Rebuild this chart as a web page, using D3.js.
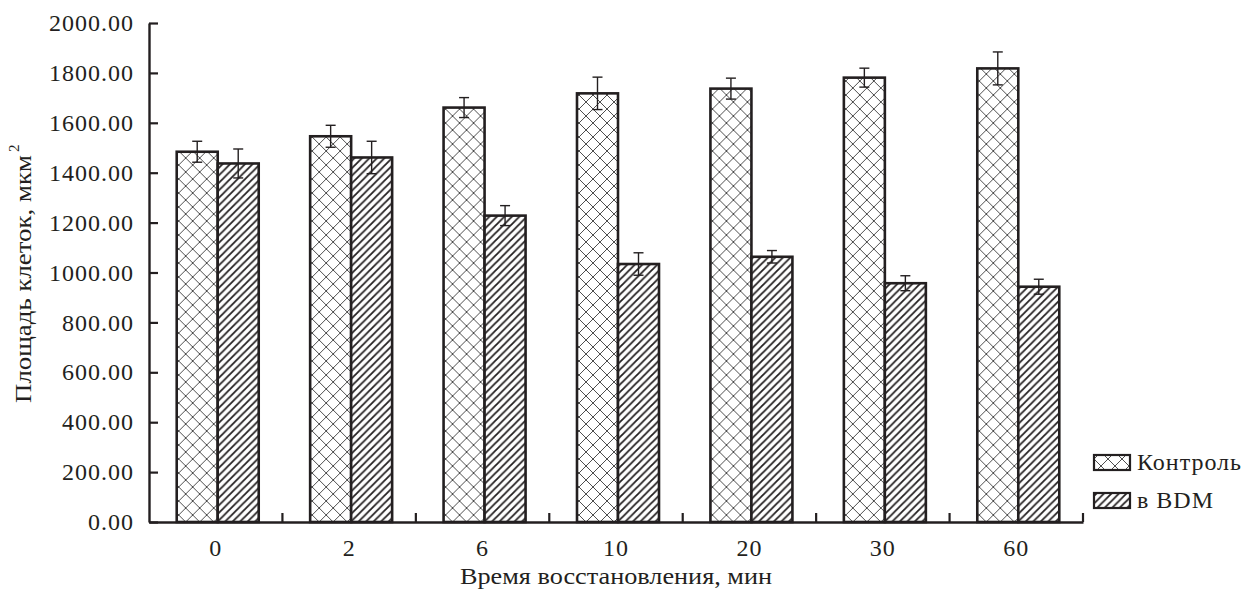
<!DOCTYPE html>
<html><head><meta charset="utf-8">
<script src="https://cdn.jsdelivr.net/npm/d3@7"></script>
<style>
body{margin:0;background:#fff}
svg{display:block}
text{font-family:"Liberation Serif","Times New Roman",serif;fill:#231f20}
</style>
</head><body>
<svg id="chart" width="1253" height="592"></svg>
<script>
const categories = ["0","2","6","10","20","30","60"];
const seriesNames = ["Контроль","в BDM"];
const controlValues = [1484,1546,1661,1718,1737,1781,1818];
const controlErrors = [42,44,40,65,42,38,66];
const bdmValues = [1437,1461,1228,1034,1063,957,943];
const bdmErrors = [58,65,40,45,25,30,30];
const yTicks = [0,200,400,600,800,1000,1200,1400,1600,1800,2000];
const xTitle = "Время восстановления, мин";
const yTitle = "Площадь клеток, мкм";

const INK = "#231f20";
const svg = d3.select("#chart");
const pLeft = 149, pRight = 1083, pTop = 23, pBottom = 522;

const defs = svg.append("defs");
const cross = defs.append("pattern").attr("id","cross").attr("patternUnits","userSpaceOnUse")
  .attr("width",14).attr("height",14).attr("x",pLeft).attr("y",pBottom);
cross.append("rect").attr("width",14).attr("height",14).attr("fill","#fff");
cross.append("path").attr("d","M0,0L14,14M14,0L0,14").attr("stroke","#3a3a3a").attr("stroke-width",0.9).attr("fill","none");
const hatch = defs.append("pattern").attr("id","hatch").attr("patternUnits","userSpaceOnUse")
  .attr("width",7.5).attr("height",7.5);
hatch.append("rect").attr("width",7.5).attr("height",7.5).attr("fill","#fff");
hatch.append("path").attr("d","M-1,8.5L8.5,-1M-1,1L1,-1M6.5,8.5L8.5,6.5").attr("stroke",INK).attr("stroke-width",1.8).attr("fill","none");
const fills = ["url(#cross)","url(#hatch)"];

const x0 = d3.scaleBand().domain(categories).range([pLeft,pRight]).padding(0);
const groupW = 82;
const x1 = d3.scaleBand().domain(seriesNames).range([0,groupW]).padding(0);
const y = d3.scaleLinear().domain([0,2000]).range([pBottom,pTop]);

const data = categories.map((c,i)=>({cat:c, vals:[
  {s:seriesNames[0], v:controlValues[i], e:controlErrors[i]},
  {s:seriesNames[1], v:bdmValues[i], e:bdmErrors[i]}]}));

const groups = svg.append("g").selectAll("g").data(data).join("g")
  .attr("transform", d=>`translate(${x0(d.cat)+x0.bandwidth()/2-groupW/2+2},0)`);
groups.selectAll("rect").data(d=>d.vals).join("rect")
  .attr("x", d=>x1(d.s)).attr("width", x1.bandwidth())
  .attr("y", d=>y(d.v)).attr("height", d=>y(0)-y(d.v))
  .attr("fill",(d,i)=>fills[i]).attr("stroke",INK).attr("stroke-width",2.6);
const eb = groups.selectAll("g.eb").data(d=>d.vals).join("g").attr("class","eb")
  .attr("transform", d=>`translate(${x1(d.s)+x1.bandwidth()/2},0)`)
  .attr("stroke",INK).attr("stroke-width",1.4);
eb.append("line").attr("y1",d=>y(d.v+d.e)).attr("y2",d=>y(d.v-d.e));
eb.append("line").attr("x1",-5).attr("x2",5).attr("y1",d=>y(d.v+d.e)).attr("y2",d=>y(d.v+d.e));
eb.append("line").attr("x1",-5).attr("x2",5).attr("y1",d=>y(d.v-d.e)).attr("y2",d=>y(d.v-d.e));

// Y axis
const yAxis = svg.append("g").attr("transform",`translate(${pLeft},0)`)
  .call(d3.axisLeft(y).tickValues(yTicks).tickFormat(d3.format(".2f")).tickSize(-9).tickSizeOuter(0).tickPadding(15));
yAxis.select(".domain").attr("stroke",INK).attr("stroke-width",2.4);
yAxis.selectAll(".tick line").attr("stroke",INK).attr("stroke-width",2.2);
yAxis.selectAll("text").attr("font-size",24).attr("fill",INK).style("letter-spacing","1px");

// X axis
const xAxis = svg.append("g").attr("transform",`translate(0,${pBottom})`)
  .call(d3.axisBottom(x0).tickSize(0).tickPadding(0));
xAxis.select(".domain").attr("stroke",INK).attr("stroke-width",2.4);
xAxis.selectAll("text").attr("font-size",24).attr("fill",INK).attr("dy",null).attr("y",34)
  .style("letter-spacing","1px");
xAxis.selectAll(".bound").data(categories).join("line").attr("class","bound")
  .attr("x1",d=>x0(d)+x0.bandwidth()).attr("x2",d=>x0(d)+x0.bandwidth())
  .attr("y1",0).attr("y2",-9).attr("stroke",INK).attr("stroke-width",2.2);

// titles
svg.append("text").attr("x",(pLeft+pRight)/2).attr("y",584).attr("font-size",23)
  .attr("text-anchor","middle")
  .attr("textLength",312).attr("lengthAdjust","spacingAndGlyphs").text(xTitle);
const yt = svg.append("g").attr("transform","translate(31,403) rotate(-90)");
yt.append("text").attr("x",0).attr("y",0).attr("font-size",23)
  .attr("textLength",248).attr("lengthAdjust","spacingAndGlyphs").text(yTitle);
yt.append("text").attr("x",251).attr("y",-12).attr("font-size",15).text("2");

// legend
const lg = svg.append("g");
seriesNames.forEach((s,i)=>{
  const yy = 455 + i*38;
  lg.append("rect").attr("x",1094).attr("y",yy).attr("width",36).attr("height",15)
    .attr("fill",fills[i]).attr("stroke",INK).attr("stroke-width",2.2);
  lg.append("text").attr("x",1137).attr("y",yy+15).attr("font-size",24)
    .style("letter-spacing","1px").text(s);
});
</script>
</body></html>
